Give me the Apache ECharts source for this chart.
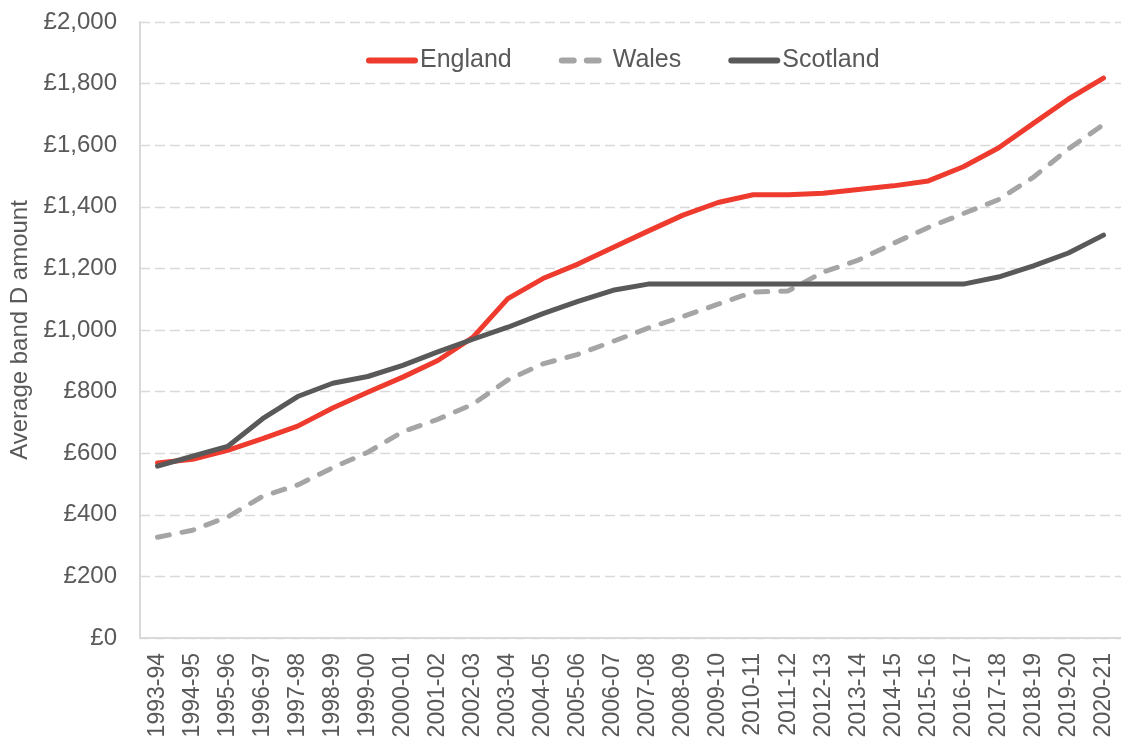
<!DOCTYPE html>
<html>
<head>
<meta charset="utf-8">
<script src="https://cdn.jsdelivr.net/npm/echarts@6/dist/echarts.min.js"></script>
<style>
html,body{margin:0;padding:0;background:#fff;}
#chart{width:1121px;height:746px;}
</style>
</head>
<body>
<div id="chart"></div>
<script>
const categories = ["1993-94","1994-95","1995-96","1996-97","1997-98","1998-99","1999-00","2000-01","2001-02","2002-03","2003-04","2004-05","2005-06","2006-07","2007-08","2008-09","2009-10","2010-11","2011-12","2012-13","2013-14","2014-15","2015-16","2016-17","2017-18","2018-19","2019-20","2020-21"];
const england = [568,580,609,647,688,747,798,847,901,976,1102,1167,1214,1268,1321,1373,1414,1439,1439,1444,1456,1468,1484,1530,1591,1671,1750,1818];
const wales = [327,350,393,460,497,553,603,670,710,759,838,890,921,963,1006,1044,1084,1123,1127,1188,1227,1281,1333,1378,1423,1496,1588,1667];
const scotland = [558,590,622,712,784,827,849,885,929,970,1009,1053,1093,1129,1149,1149,1149,1149,1149,1149,1149,1149,1149,1149,1172,1208,1250,1308];

const font = "Liberation Sans, Arial, sans-serif";
const textColor = "#595959";
const chart = echarts.init(document.getElementById('chart'));
chart.setOption({
  animation: false,
  backgroundColor: '#fff',
  textStyle: { fontFamily: font },
  legend: {
    left: 361, top: 43,
    itemWidth: 46, itemHeight: 14, itemGap: 47,
    itemStyle: { opacity: 0 },
    lineStyle: { width: 6 },
    textStyle: { fontSize: 25, color: textColor, fontFamily: font },
    data: ['England','Wales','Scotland']
  },
  grid: { left: 140, right: -9, top: 22, bottom: 108, containLabel: false },
  xAxis: {
    type: 'category',
    data: categories,
    boundaryGap: true,
    axisLine: { show: true, lineStyle: { color: '#d9d9d9', width: 2 } },
    axisTick: { show: false },
    axisLabel: { rotate: 90, fontSize: 23, color: textColor, fontFamily: font, interval: 0, margin: 15 }
  },
  yAxis: {
    type: 'value',
    min: 0, max: 2000, interval: 200,
    name: 'Average band D amount',
    nameLocation: 'middle',
    nameGap: 106,
    nameTextStyle: { fontSize: 24, color: textColor, fontFamily: font },
    axisLine: { show: true, lineStyle: { color: '#d9d9d9', width: 2 } },
    axisTick: { show: false },
    splitLine: { show: true, lineStyle: { color: '#d9d9d9', type: [10, 5], width: 1.3 } },
    axisLabel: {
      fontSize: 24, color: textColor, fontFamily: font, margin: 23,
      formatter: v => '£' + v.toLocaleString('en-GB')
    }
  },
  series: [
    { name: 'England', type: 'line', data: england, symbol: 'none',
      lineStyle: { color: '#EE3B2E', width: 5, cap: 'round', join: 'round' }, itemStyle: { color: '#EE3B2E' } },
    { name: 'Wales', type: 'line', data: wales, symbol: 'none',
      lineStyle: { color: '#A5A5A5', width: 5, type: [12, 13], cap: 'round', join: 'round' }, itemStyle: { color: '#A5A5A5' } },
    { name: 'Scotland', type: 'line', data: scotland, symbol: 'none',
      lineStyle: { color: '#595959', width: 5, cap: 'round', join: 'round' }, itemStyle: { color: '#595959' } }
  ]
});
</script>
</body>
</html>
